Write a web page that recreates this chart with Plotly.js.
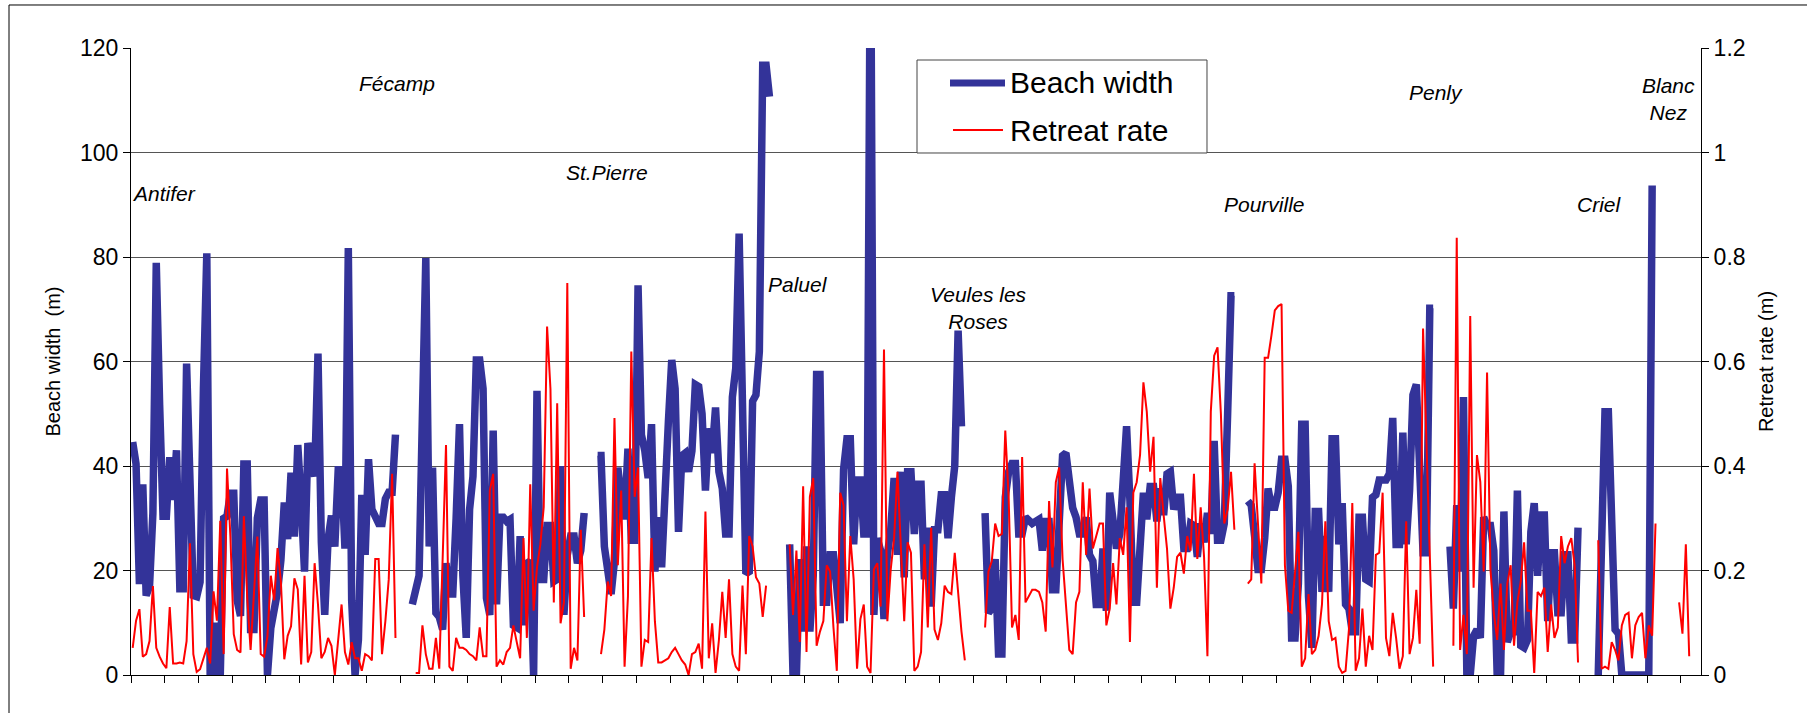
<!DOCTYPE html>
<html>
<head>
<meta charset="utf-8">
<script src="https://cdn.plot.ly/plotly-3.0.1.min.js"></script>
<style>html,body{margin:0;padding:0;background:#fff;}#chart{width:1807px;height:713px;}</style>
</head>
<body>
<div id="chart"></div>
<script>
// Beach width (m), one value per profile (null = no data)
const beachWidth = [
44.6,40.4,17.4,36.5,15.2,17,31,78.9,51.7,30.4,
30.4,41.7,33.5,43,16.5,16.5,59.6,40.4,15.2,15,
17.8,55,80.7,0,0,10,0,30,30.4,34.8,
34.8,14.3,11.3,40.4,40.4,8.7,8.7,30,33.5,33.5,
0,9,12,16,22,33,26,38.7,26.5,44,
33.3,19.8,44.4,41,38,61.5,25.4,11.5,26,30.5,
24.6,39.3,39.3,24.2,81.7,14.3,0,6.7,34.5,23,
41.3,31.7,29.8,29,29,33.7,35,35,46,null,
null,null,null,13.5,17,19,50,79.8,24.6,39.7,
11.9,11.1,8.7,21.4,15.5,15.5,30,48,19,7.1,
31.7,38,60.3,60.3,54.8,14.7,11.5,46.8,13.5,30.2,
30.2,29.4,29.8,9.5,9.1,26.6,9.5,21.4,21.8,0,
54.4,18.3,18.3,28.6,28.6,17.9,18.3,40,11.5,23,
26.6,26.6,21.4,23.8,31,null,null,null,42,42,
24.6,18.3,15.5,21.8,39.7,34,29.8,43.3,25.8,25.8,
74.6,46,42.9,37.7,48,19.8,30.2,20.6,38.9,48.4,
60.3,54.8,27.4,42,42.5,38.9,42.9,55.6,55.2,50,
35.3,47.2,42.5,51.2,38.9,35.7,27,27,53.2,58.7,
84.5,52.4,19.4,19.8,52.4,53.6,61.9,116.7,116.7,110.7,
null,null,null,null,null,25,0,0,22.2,8.3,
24.6,8.3,19,57.5,57.5,13.9,13.9,23,23,16.7,
9.9,39.3,45.2,45.2,25,37.3,37.3,27,27,150,
11.5,26.2,23.8,10.7,23,27.8,37.7,23,38.9,18.7,
38.9,38.9,27,36.5,36.5,18.3,28.2,13.1,27.8,27.8,
34.5,34.5,26.2,34,40,65.9,47.6,null,null,null,
null,null,null,31,11.9,12.7,22.2,4,4,34,
38.9,40.5,40.5,27,27,30.2,29.8,29,29.4,29.8,
23.8,29.4,29.4,16.3,16.3,34,42,42.5,38,32,
30.2,27,27,30.2,23,21.8,13.5,13.5,24.2,12.3,
34.9,28.6,24.2,27,36.5,47.6,33.3,13.9,13.9,23,
34.9,29.8,36.1,36.1,29.4,35.7,30.6,38.5,38.9,31.7,
34,34,24.2,24.2,29,28.6,22.6,29,25.4,31,
27,44.8,25.8,25.8,29,50,72.6,72.6,null,null,
null,33.3,32.5,26.6,20.2,20.2,26.2,35.7,32.1,32.1,
34.9,41.3,41.3,36.1,7.1,7.1,17.5,48,48,15,
5.2,31.3,31.3,15.9,26.6,15.9,45.2,45.2,25,32.9,
13.5,12.7,8.3,8.3,30.2,30.2,18.3,17.9,34,34.5,
37.3,37.3,37.3,38.5,49.2,25,25,46.4,25,35.3,
53.6,55.6,36.5,23.4,23.4,70.2,70.2,null,null,null,
null,24.6,12.7,32.5,19.8,53.2,0,0,7.5,8.7,
7.1,30.2,28.6,28.6,23.8,0,0,31.3,6.3,8.3,
8.3,35.3,5.6,5.2,6.7,27.4,32.9,19,30.6,30.6,
10.3,23.4,23.4,11.9,11.9,23,23,6.7,6.7,28.2,
null,null,null,null,null,0,25,50.4,50.4,26,
8.7,7.9,0,0,0,0,0,0,0,0,
0,93.7,null,null,null,null,null,null,null,null,
null,null,null,null,null,null
];

// Retreat rate (m), one value per profile (null = no data)
const retreatRate = [
.052,.104,.126,.035,.04,.065,.17,.052,.035,.022,
.013,.13,.022,.022,.024,.022,.065,.252,.04,.006,
.011,.03,.052,.022,.16,.104,.295,.04,.395,.265,
.078,.048,.043,.304,.148,.048,.15,.265,.04,.035,
.074,.19,.143,.243,.178,.03,.075,.093,.185,.164,
.02,.19,.024,.044,.214,.135,.032,.044,.071,.056,
0,.063,.135,.044,.02,.063,.032,.032,.008,.04,
.036,.028,.222,.222,.04,.103,.183,.385,.071,null,
null,null,null,null,.004,.004,.095,.04,.012,.012,
.071,.012,.222,.44,.016,.008,.071,.052,.052,.048,
.04,.036,.028,.091,.036,.036,.353,.385,.016,.028,
.02,.044,.052,.095,.063,.032,.262,.071,.365,.123,
.206,.25,.321,.667,.548,.139,.52,.099,.139,.75,
.012,.052,.028,.278,.111,null,null,null,null,.04,
.087,.179,.151,.492,.21,.353,.016,.15,.619,.341,
.397,.016,.067,.063,.262,.103,.024,.024,.028,.032,
.044,.052,.04,.028,.02,0,.04,.044,.06,.012,
.313,.032,.099,.004,.067,.159,.071,.183,.04,.016,
.008,.171,.04,.266,.246,.187,.175,.111,.171,null,
null,null,null,null,null,.25,.115,.238,.063,.361,
.044,.341,.377,.056,.083,.103,.21,.198,.091,.008,
.349,.325,.103,.266,.183,.012,.107,.135,.016,.004,
.202,.214,.131,.623,.103,.202,.262,.389,.238,.103,
.254,.234,.008,.016,.044,.25,.091,.282,.087,.067,
.099,.171,.159,.155,.234,.159,.083,.028,null,null,
null,null,null,.091,.198,.218,.29,.266,.27,.468,
.341,.091,.115,.067,.417,.139,.151,.163,.163,.159,
.139,.083,.333,.206,.369,.397,.222,.143,.048,.04,
.139,.159,.369,.23,.357,.242,.266,.29,.29,.095,
.127,.214,.135,.262,.23,.321,.063,.349,.369,.421,
.56,.504,.389,.456,.167,.377,.306,.242,.127,.167,
.226,.234,.194,.266,.238,.385,.222,.321,.226,.036,
.504,.611,.627,.5,.29,.317,.389,.278,null,null,
null,.175,.183,.405,.294,.175,.607,.607,.65,.698,
.706,.71,.21,.123,.119,.198,.274,.016,.032,.155,
.04,.048,.075,.135,.294,.103,.067,.071,.016,.004,
.008,.087,.329,.008,.032,.127,.016,.075,.048,.23,
.234,.349,.071,.036,.119,.071,.012,.036,.294,.04,
.071,.163,.06,.663,.421,.23,.016,null,null,null,
null,null,.056,.837,.048,.115,.04,.687,.167,.421,
.369,.198,.579,.202,.119,.067,.175,.048,.175,.21,
.056,.139,.179,.254,.123,.123,.004,.159,.151,.167,
.044,.135,.071,.091,.266,.214,.246,.262,.21,.024,
null,null,null,null,null,.258,.012,.016,.012,.063,
.048,.028,.095,.115,.119,.032,.095,.111,.119,.032,
.095,.075,.29,null,null,null,null,null,null,.139,
.079,.25,.036,null,null,null
];

// Site labels: name, profile position, beach width height
const siteNames = ["Antifer","Fécamp","St.Pierre","Paluel","Veules les<br>Roses","Pourville","Penly","Criel","Blanc<br>Nez"];
const sitePos   = [-0.5, 78.5, 140.7, 197.6, 251, 335.8, 386.9, 435.4, 456];
const siteLevel = [92.1, 113.3, 96.1, 74.7, 70.3, 90, 111.5, 90, 110.3];

const seriesNames = ["Beach width", "Retreat rate"];
const axisTitles = ["Beach width  (m)", "Retreat rate (m)"];

const N = beachWidth.length;
const profile = Array.from({length: N}, (_, i) => i);
const tickPos = [];
for (let k = -0.5; k < N; k += 10) tickPos.push(k);

const FONT = "Liberation Sans, Arial, Helvetica, sans-serif";
const BLUE = "#333399", RED = "#FF0000";

const traces = [
  {x: profile, y: beachWidth, type: "scatter", mode: "lines", name: seriesNames[0],
   line: {color: BLUE, width: 7.5}, connectgaps: false, yaxis: "y", hoverinfo: "y"},
  {x: profile, y: retreatRate, type: "scatter", mode: "lines", name: seriesNames[1],
   line: {color: RED, width: 2}, connectgaps: false, yaxis: "y2", hoverinfo: "y"}
];

const annotations = siteNames.map((t, i) => ({
  x: sitePos[i], y: siteLevel[i], xref: "x", yref: "y",
  text: "<i>" + t + "</i>", showarrow: false,
  xanchor: i === 0 ? "left" : "center", yanchor: "middle", align: "center",
  borderpad: 0,
  font: {family: FONT, size: 21, color: "#000"}
}));

// legend (drawn in paper coordinates)
annotations.push({x: 0.5586, y: 0.9442, xref: "paper", yref: "paper", text: seriesNames[0],
  showarrow: false, xanchor: "left", yanchor: "middle", font: {family: FONT, size: 30, color: "#000"}});
annotations.push({x: 0.5586, y: 0.8692, xref: "paper", yref: "paper", text: seriesNames[1],
  showarrow: false, xanchor: "left", yanchor: "middle", font: {family: FONT, size: 30, color: "#000"}});

const shapes = [
  {type: "rect", xref: "paper", yref: "paper", x0: -0.0777, x1: 1.082, y0: -0.104, y1: 1.0686,
   line: {color: "#000", width: 1}, fillcolor: "rgba(0,0,0,0)", layer: "above"},
  {type: "rect", xref: "paper", yref: "paper", x0: 0.50064, x1: 0.68535, y0: 0.83254, y1: 0.98086,
   line: {color: "#444", width: 1}, fillcolor: "#fff", layer: "above"},
  {type: "line", xref: "paper", yref: "paper", x0: 0.52166, x1: 0.55669, y0: 0.9442, y1: 0.9442,
   line: {color: BLUE, width: 7}, layer: "above"},
  {type: "line", xref: "paper", yref: "paper", x0: 0.52357, x1: 0.55541, y0: 0.8692, y1: 0.8692,
   line: {color: RED, width: 2}, layer: "above"}
];

const layout = {
  width: 1807, height: 713,
  margin: {l: 131, r: 106, t: 48, b: 38, pad: 0},
  paper_bgcolor: "#fff", plot_bgcolor: "#fff",
  showlegend: false,
  font: {family: FONT, color: "#000"},
  xaxis: {
    range: [-0.5, N - 0.5], showgrid: false, zeroline: false,
    showline: true, linecolor: "#000", linewidth: 1,
    tickmode: "array", tickvals: tickPos, showticklabels: false,
    ticks: "outside", ticklen: 7, tickcolor: "#000", tickwidth: 1
  },
  yaxis: {
    range: [0, 120], tick0: 0, dtick: 20,
    showline: true, linecolor: "#000", linewidth: 1,
    ticks: "outside", ticklen: 7, tickcolor: "#000",
    showgrid: true, gridcolor: "#555", gridwidth: 1, zeroline: false,
    tickfont: {family: FONT, size: 23, color: "#000"},
    title: {text: axisTitles[0], font: {family: FONT, size: 20, color: "#000"}, standoff: 14}
  },
  yaxis2: {
    range: [0, 1.2], tick0: 0, dtick: 0.2, overlaying: "y", side: "right",
    showline: true, linecolor: "#000", linewidth: 1,
    ticks: "outside", ticklen: 7, tickcolor: "#000",
    showgrid: false, zeroline: false,
    tickfont: {family: FONT, size: 23, color: "#000"},
    title: {text: axisTitles[1], font: {family: FONT, size: 20, color: "#000"}, standoff: 14}
  },
  annotations: annotations,
  shapes: shapes
};

Plotly.newPlot("chart", traces, layout, {staticPlot: true, displayModeBar: false});
</script>
</body>
</html>
